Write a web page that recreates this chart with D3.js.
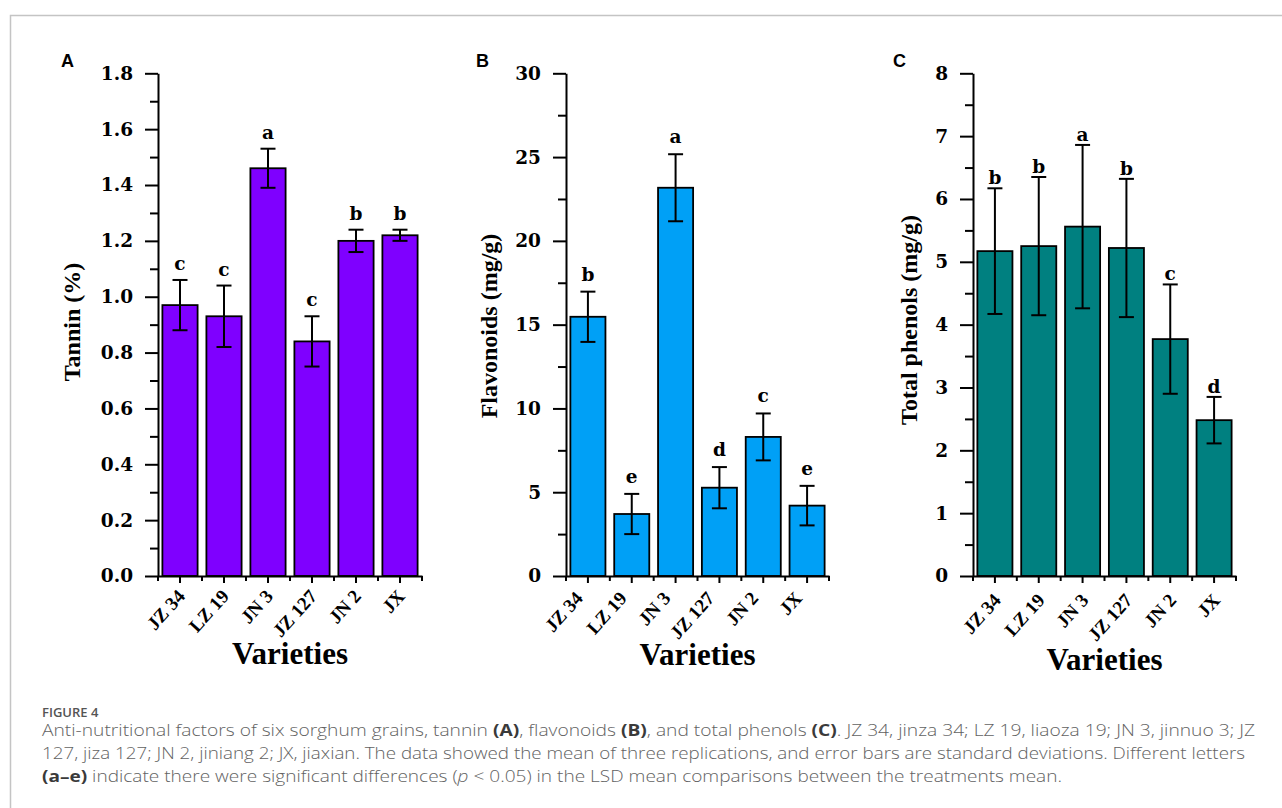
<!DOCTYPE html>
<html>
<head>
<meta charset="utf-8">
<script src="https://cdn.jsdelivr.net/npm/d3@7"></script>
<style>
  body { margin: 0; background: #fff; }
  svg { display: block; }
</style>
</head>
<body>
<div id="chart"></div>
<script>
// sorghum varieties on the x axis
const varieties = ["JZ 34", "LZ 19", "JN 3", "JZ 127", "JN 2", "JX"];

// panel A: tannin (%)
const tanninMean = [0.97, 0.93, 1.46, 0.84, 1.20, 1.22];
const tanninSd = [0.09, 0.11, 0.07, 0.09, 0.04, 0.02];
const tanninLetters = ["c", "c", "a", "c", "b", "b"];
const tanninTicks = [0, 0.2, 0.4, 0.6, 0.8, 1.0, 1.2, 1.4, 1.6, 1.8];

// panel B: flavonoids (mg/g)
const flavMean = [15.47, 3.70, 23.17, 5.27, 8.30, 4.20];
const flavSd = [1.50, 1.20, 2.00, 1.23, 1.40, 1.18];
const flavLetters = ["b", "e", "a", "d", "c", "e"];
const flavTicks = [0, 5, 10, 15, 20, 25, 30];

// panel C: total phenols (mg/g)
const phenolMean = [5.17, 5.25, 5.56, 5.22, 3.77, 2.48];
const phenolSd = [1.00, 1.10, 1.30, 1.10, 0.87, 0.37];
const phenolLetters = ["b", "b", "a", "b", "c", "d"];
const phenolTicks = [0, 1, 2, 3, 4, 5, 6, 7, 8];

const W = 1282, H = 808;
const svg = d3.select("#chart").append("svg")
    .attr("width", W).attr("height", H);

// light frame around the figure
svg.append("rect")
    .attr("x", 10.5).attr("y", 15.5)
    .attr("width", W + 20).attr("height", H + 20)
    .attr("fill", "none").attr("stroke", "#c4c4c4").attr("stroke-width", 1.5);

const serif = "'Liberation Serif', 'Times New Roman', serif";
const wideSerif = "'DejaVu Serif', serif";

function drawPanel(p) {
    const g = svg.append("g");
    const yTop = 73.3, yBottom = 576;

    const x = d3.scaleBand().domain(varieties)
        .range([p.left, p.right]).paddingInner(0.2).paddingOuter(0.1);
    const y = d3.scaleLinear().domain([0, p.ticks[p.ticks.length - 1]]).range([yBottom, yTop]);

    const rows = varieties.map((v, i) => ({ v: v, mean: p.mean[i], sd: p.sd[i], letter: p.letters[i] }));

    // bars
    g.selectAll("rect.bar").data(rows).enter().append("rect")
        .attr("class", "bar")
        .attr("x", d => x(d.v))
        .attr("y", d => y(d.mean))
        .attr("width", x.bandwidth())
        .attr("height", d => y(0) - y(d.mean))
        .attr("fill", p.color)
        .attr("stroke", "#000").attr("stroke-width", 1.8);

    // error bars
    const cap = 7.5;
    const err = g.selectAll("g.err").data(rows).enter().append("g")
        .attr("stroke", "#000").attr("stroke-width", 2);
    err.append("line")
        .attr("x1", d => x(d.v) + x.bandwidth() / 2).attr("x2", d => x(d.v) + x.bandwidth() / 2)
        .attr("y1", d => y(d.mean + d.sd)).attr("y2", d => y(d.mean - d.sd));
    err.append("line")
        .attr("x1", d => x(d.v) + x.bandwidth() / 2 - cap).attr("x2", d => x(d.v) + x.bandwidth() / 2 + cap)
        .attr("y1", d => y(d.mean + d.sd)).attr("y2", d => y(d.mean + d.sd));
    err.append("line")
        .attr("x1", d => x(d.v) + x.bandwidth() / 2 - cap).attr("x2", d => x(d.v) + x.bandwidth() / 2 + cap)
        .attr("y1", d => y(d.mean - d.sd)).attr("y2", d => y(d.mean - d.sd));

    // significance letters
    g.selectAll("text.sig").data(rows).enter().append("text")
        .attr("x", d => x(d.v) + x.bandwidth() / 2)
        .attr("y", d => y(d.mean + d.sd) - p.letterGap)
        .attr("text-anchor", "middle")
        .style("font-family", wideSerif).style("font-weight", "bold").style("font-size", "18.5px")
        .text(d => d.letter);

    // y axis, major + minor ticks
    const yAxis = g.append("g").attr("transform", `translate(${p.left},0)`)
        .call(d3.axisLeft(y).tickValues(p.ticks).tickFormat(p.fmt)
            .tickSize(13).tickPadding(12).tickSizeOuter(0));
    yAxis.select(".domain").attr("stroke-width", 2);
    yAxis.selectAll(".tick line").attr("stroke-width", 2);
    yAxis.selectAll(".tick text")
        .style("font-family", wideSerif).style("font-weight", "bold").style("font-size", "18.5px");

    const minor = p.ticks.slice(1).map((t, i) => (t + p.ticks[i]) / 2);
    const yMinor = g.append("g").attr("transform", `translate(${p.left},0)`)
        .call(d3.axisLeft(y).tickValues(minor).tickFormat("").tickSize(8).tickSizeOuter(0));
    yMinor.select(".domain").remove();
    yMinor.selectAll(".tick line").attr("stroke-width", 2);

    // x axis
    const xAxis = g.append("g").attr("transform", `translate(0,${yBottom})`)
        .call(d3.axisBottom(x).tickFormat("").tickSize(7).tickSizeOuter(0));
    xAxis.select(".domain").attr("stroke-width", 2);
    xAxis.selectAll(".tick line").attr("stroke-width", 2);

    // minor ticks at band boundaries
    g.selectAll("line.xminor").data(d3.range(varieties.length + 1)).enter().append("line")
        .attr("x1", i => p.left + i * x.step()).attr("x2", i => p.left + i * x.step())
        .attr("y1", yBottom).attr("y2", yBottom + 5)
        .attr("stroke", "#000").attr("stroke-width", 2);

    // rotated category labels
    g.selectAll("text.xlab").data(varieties).enter().append("text")
        .attr("transform", d => `translate(${x(d) + x.bandwidth() / 2 + p.labelDx},${p.labelY}) rotate(-48)`)
        .attr("text-anchor", "end")
        .style("font-family", serif).style("font-weight", "bold").style("font-size", "19px")
        .text(d => d);

    // axis titles
    g.append("text")
        .attr("x", (p.left + p.right) / 2).attr("y", p.titleY)
        .attr("text-anchor", "middle")
        .style("font-family", serif).style("font-weight", "bold").style("font-size", "31px")
        .text("Varieties");

    g.append("text")
        .attr("transform", `translate(${p.yTitleX},${p.yTitleY}) rotate(-90)`)
        .attr("text-anchor", "middle")
        .style("font-family", serif).style("font-weight", "bold").style("font-size", "24px")
        .text(p.yTitle);

    // panel letter
    g.append("text")
        .attr("x", p.tagX).attr("y", 66.5)
        .style("font-family", "'Liberation Sans', Arial, sans-serif").style("font-weight", "bold").style("font-size", "18px")
        .text(p.tag);
}

drawPanel({
    tag: "A", tagX: 61, left: 158, right: 422,
    mean: tanninMean, sd: tanninSd, letters: tanninLetters,
    ticks: tanninTicks, fmt: d3.format(".1f"), color: "#7f00ff",
    letterGap: 10, labelDx: 6, labelY: 597, titleY: 664,
    yTitle: "Tannin (%)", yTitleX: 80, yTitleY: 322
});

drawPanel({
    tag: "B", tagX: 476, left: 566, right: 829,
    mean: flavMean, sd: flavSd, letters: flavLetters,
    ticks: flavTicks, fmt: d3.format("d"), color: "#00a0f6",
    letterGap: 11, labelDx: -4, labelY: 599, titleY: 665,
    yTitle: "Flavonoids (mg/g)", yTitleX: 497, yTitleY: 326
});

drawPanel({
    tag: "C", tagX: 893, left: 973, right: 1236,
    mean: phenolMean, sd: phenolSd, letters: phenolLetters,
    ticks: phenolTicks, fmt: d3.format("d"), color: "#008080",
    letterGap: 4, labelDx: 7, labelY: 601, titleY: 670,
    yTitle: "Total phenols (mg/g)", yTitleX: 917, yTitleY: 320
});

// caption
const capFont = "'Open Sans', 'Noto Sans', sans-serif";
svg.append("text")
    .attr("x", 42).attr("y", 717)
    .style("font-family", capFont).style("font-weight", 600).style("font-size", "13px")
    .attr("fill", "#555")
    .text("FIGURE 4");

const captionLines = [
    [["Anti-nutritional factors of six sorghum grains, tannin ", 0], ["(A)", 1], [", flavonoids ", 0], ["(B)", 1],
     [", and total phenols ", 0], ["(C)", 1], [". JZ 34, jinza 34; LZ 19, liaoza 19; JN 3, jinnuo 3; JZ", 0]],
    [["127, jiza 127; JN 2, jiniang 2; JX, jiaxian. The data showed the mean of three replications, and error bars are standard deviations. Different letters", 0]],
    [["(a\u2013e)", 1], [" indicate there were significant differences (", 0], ["p", 2], [" < 0.05) in the LSD mean comparisons between the treatments mean.", 0]]
];
const captionWidths = [1213, 1203, 1020];

captionLines.forEach((line, i) => {
    const t = svg.append("text")
        .attr("x", 42).attr("y", 736 + i * 23)
        .attr("textLength", captionWidths[i]).attr("lengthAdjust", "spacingAndGlyphs")
        .style("font-family", capFont).style("font-size", "15.5px").style("font-weight", 300)
        .attr("fill", "#626262");
    line.forEach(seg => {
        const s = t.append("tspan").text(seg[0]);
        if (seg[1] === 1) s.style("font-weight", 700).attr("fill", "#3a3a3a");
        if (seg[1] === 2) s.style("font-style", "italic");
    });
});
</script>
</body>
</html>
